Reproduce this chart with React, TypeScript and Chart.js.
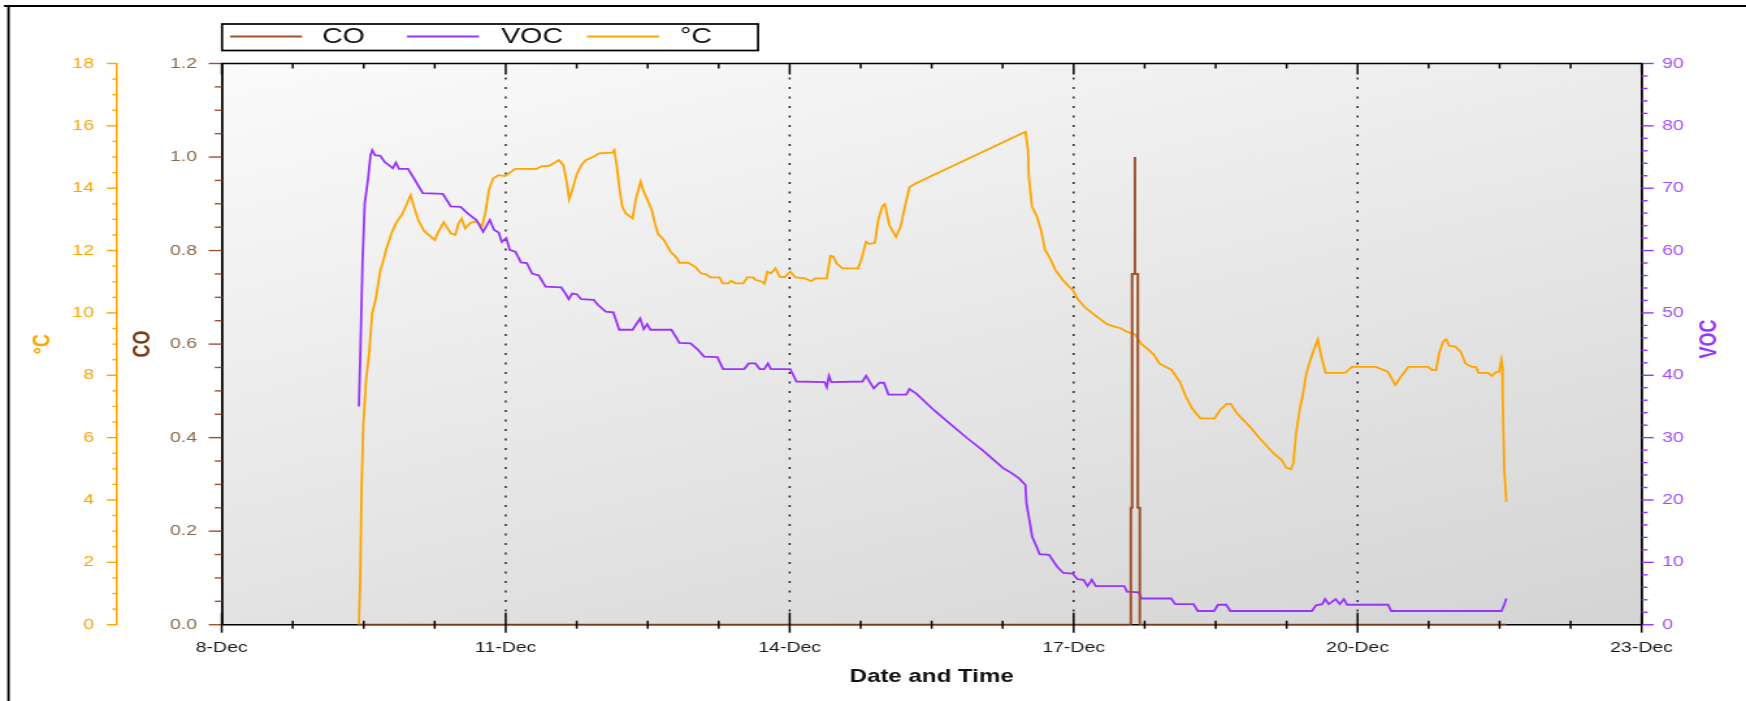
import React, { useEffect, useRef } from "react";
import { Chart, registerables } from "chart.js";

Chart.register(...registerables);

// ---------------- data ----------------
const MONTH = "Dec";
const xTickDays = [8, 11, 14, 17, 20, 23];
const seriesLabels = ["CO", "VOC", "°C"];
const xTitle = "Date and Time";

// CO (ppm) – day of month (fractional) and value
const coDays = [9.449, 17.604, 17.604, 17.617, 17.617, 17.647, 17.647, 17.647, 17.678, 17.678, 17.699, 17.699, 21.571];
const coValues = [0, 0, 0.25, 0.25, 0.75, 0.75, 1.0, 0.75, 0.75, 0.25, 0.25, 0, 0];

// VOC
const vocDays = [
  9.449, 9.463, 9.487, 9.511, 9.544, 9.572, 9.59, 9.619, 9.676, 9.722,
  9.808, 9.84, 9.873, 9.968, 10.03, 10.124, 10.336, 10.42, 10.524, 10.595,
  10.69, 10.761, 10.832, 10.878, 10.926, 10.958, 11.005, 11.043, 11.104, 11.161,
  11.222, 11.279, 11.35, 11.421, 11.586, 11.632, 11.666, 11.703, 11.751, 11.798,
  11.93, 11.973, 12.057, 12.137, 12.199, 12.34, 12.42, 12.459, 12.495, 12.529,
  12.751, 12.836, 12.953, 13.024, 13.095, 13.236, 13.297, 13.519, 13.567, 13.638,
  13.684, 13.731, 13.77, 13.802, 14.005, 14.072, 14.369, 14.392, 14.415, 14.44,
  14.769, 14.807, 14.888, 14.949, 14.996, 15.043, 15.232, 15.265, 15.335, 15.525,
  15.689, 15.877, 16.043, 16.255, 16.325, 16.42, 16.491, 16.501, 16.538, 16.562,
  16.609, 16.64, 16.74, 16.826, 16.89, 16.989, 17.04, 17.104, 17.147, 17.191,
  17.234, 17.534, 17.564, 17.685, 17.719, 18.03, 18.073, 18.267, 18.311, 18.483,
  18.525, 18.612, 18.655, 19.517, 19.561, 19.626, 19.656, 19.694, 19.769, 19.811,
  19.855, 19.889, 20.321, 20.355, 21.519, 21.549, 21.571,
];
const vocValues = [
  35.0, 42.7, 58.0, 67.6, 71.3, 75.3, 76.1, 75.3, 75.2, 74.2,
  73.2, 74.1, 73.1, 73.1, 71.6, 69.2, 69.1, 67.1, 67.0, 66.0,
  64.9, 63.0, 64.9, 63.3, 62.9, 61.4, 62.0, 60.1, 59.8, 58.1,
  58.0, 56.3, 56.0, 54.2, 54.1, 53.1, 52.2, 53.1, 53.0, 52.2,
  52.1, 51.3, 50.2, 50.1, 47.3, 47.3, 49.1, 47.4, 48.2, 47.3,
  47.3, 45.2, 45.1, 44.2, 43.0, 42.9, 41.0, 41.0, 41.9, 41.9,
  41.0, 41.0, 41.9, 41.0, 41.0, 39.0, 38.9, 38.1, 39.9, 38.9,
  39.0, 39.9, 37.9, 38.8, 38.8, 36.9, 36.9, 37.8, 37.1, 34.4,
  32.3, 29.9, 27.9, 25.1, 24.5, 23.5, 22.4, 19.5, 16.3, 14.1,
  12.5, 11.3, 11.2, 9.3, 8.3, 8.2, 7.3, 7.2, 6.2, 7.2,
  6.2, 6.2, 5.3, 5.2, 4.2, 4.2, 3.3, 3.3, 2.2, 2.2,
  3.2, 3.2, 2.2, 2.2, 3.1, 3.3, 4.1, 3.3, 4.1, 3.3,
  4.1, 3.2, 3.2, 2.2, 2.2, 3.2, 4.2,
];

// Temperature (°C)
const tempDays = [
  9.449, 9.463, 9.477, 9.496, 9.525, 9.557, 9.59, 9.628, 9.676, 9.699,
  9.746, 9.793, 9.84, 9.911, 9.996, 10.03, 10.076, 10.137, 10.25, 10.288,
  10.345, 10.42, 10.468, 10.501, 10.534, 10.572, 10.629, 10.69, 10.751, 10.784,
  10.822, 10.868, 10.926, 10.996, 11.043, 11.104, 11.326, 11.383, 11.458, 11.506,
  11.563, 11.609, 11.647, 11.67, 11.703, 11.751, 11.798, 11.845, 11.915, 11.986,
  12.128, 12.147, 12.175, 12.199, 12.231, 12.269, 12.34, 12.373, 12.425, 12.459,
  12.505, 12.543, 12.576, 12.61, 12.671, 12.742, 12.812, 12.836, 12.93, 13.001,
  13.062, 13.118, 13.165, 13.26, 13.293, 13.35, 13.383, 13.425, 13.51, 13.552,
  13.613, 13.638, 13.708, 13.732, 13.764, 13.802, 13.85, 13.896, 13.944, 14.005,
  14.062, 14.156, 14.227, 14.274, 14.392, 14.43, 14.463, 14.495, 14.557, 14.723,
  14.76, 14.807, 14.84, 14.901, 14.935, 14.981, 15.005, 15.052, 15.123, 15.171,
  15.217, 15.265, 15.335, 16.491, 16.518, 16.526, 16.56, 16.612, 16.655, 16.698,
  16.742, 16.806, 16.871, 16.935, 16.992, 17.044, 17.129, 17.237, 17.353, 17.432,
  17.496, 17.561, 17.647, 17.712, 17.842, 17.906, 18.035, 18.122, 18.186, 18.251,
  18.337, 18.488, 18.553, 18.617, 18.66, 18.725, 18.811, 18.863, 18.95, 19.048,
  19.122, 19.199, 19.243, 19.294, 19.321, 19.35, 19.393, 19.424, 19.458, 19.501,
  19.536, 19.58, 19.609, 19.661, 19.868, 19.941, 20.192, 20.256, 20.321, 20.398,
  20.471, 20.537, 20.744, 20.786, 20.829, 20.86, 20.903, 20.937, 20.968, 21.032,
  21.088, 21.14, 21.205, 21.248, 21.278, 21.378, 21.42, 21.463, 21.494, 21.519,
  21.527, 21.532, 21.549, 21.571,
];
const tempValues = [
  0, 1.43, 4.37, 6.4, 7.85, 8.7, 9.99, 10.47, 11.38, 11.59,
  12.12, 12.55, 12.87, 13.19, 13.78, 13.41, 12.98, 12.63, 12.34, 12.6,
  12.91, 12.55, 12.5, 12.87, 13.03, 12.71, 12.89, 12.93, 12.79, 13.19,
  13.94, 14.32, 14.42, 14.39, 14.5, 14.62, 14.62, 14.71, 14.71, 14.8,
  14.9, 14.74, 14.16, 13.64, 13.94, 14.45, 14.74, 14.9, 14.99, 15.12,
  15.14, 15.22, 14.69, 14.05, 13.41, 13.19, 13.03, 13.62, 14.21, 13.89,
  13.57, 13.3, 12.87, 12.53, 12.34, 11.96, 11.75, 11.61, 11.61, 11.48,
  11.27, 11.24, 11.14, 11.14, 10.95, 10.95, 11.03, 10.95, 10.95, 11.14,
  11.14, 11.06, 11.0, 10.93, 11.32, 11.27, 11.43, 11.16, 11.14, 11.32,
  11.14, 11.11, 11.02, 11.11, 11.11, 11.83, 11.8, 11.59, 11.43, 11.43,
  11.75, 12.28, 12.21, 12.25, 12.98, 13.43, 13.49, 12.82, 12.44, 12.76,
  13.41, 14.03, 14.16, 15.81, 15.22, 14.37, 13.41, 13.09, 12.66, 12.02,
  11.8, 11.38, 11.11, 10.89, 10.73, 10.44, 10.15, 9.9, 9.64, 9.56,
  9.51, 9.4, 9.31, 9.02, 8.68, 8.38, 8.17, 7.79, 7.31, 6.94,
  6.62, 6.62, 6.91, 7.08, 7.08, 6.78, 6.51, 6.35, 6.03, 5.71,
  5.47, 5.28, 5.05, 4.98, 5.18, 6.14, 6.99, 7.42, 8.06, 8.49,
  8.81, 9.15, 8.7, 8.08, 8.08, 8.27, 8.27, 8.19, 8.11, 7.69,
  8.01, 8.27, 8.27, 8.17, 8.17, 8.7, 9.08, 9.15, 8.94, 8.92,
  8.76, 8.38, 8.27, 8.27, 8.08, 8.08, 7.98, 8.11, 8.11, 8.49,
  8.27, 7.31, 5.02, 3.94,
];

// ---------------- styling / geometry ----------------
const CO_COLOR = "#A0522D";
const VOC_COLOR = "#9933FF";
const TEMP_COLOR = "#FFA500";
const FONT = "Arial, 'Liberation Sans', Helvetica, sans-serif";

const OUT_W = 1746;
const OUT_H = 701;
const STRETCH = 1.3; // horizontal stretch of the original picture
const CW = Math.round(OUT_W / STRETCH);
const hx = (px: number) => px / STRETCH;

const PLOT_LEFT = hx(221.7);
const PLOT_RIGHT = hx(1641.5);
const PLOT_TOP = 63.5;
const PLOT_BOTTOM = 624.7;
const TEMP_AXIS_X = hx(117.3);

const toPoints = (xs: number[], ys: number[]) => xs.map((x, i) => ({ x, y: ys[i] }));

function line(ctx: CanvasRenderingContext2D, x1: number, y1: number, x2: number, y2: number) {
  ctx.beginPath();
  ctx.moveTo(x1, y1);
  ctx.lineTo(x2, y2);
  ctx.stroke();
}

const decorPlugin = {
  id: "decor",
  beforeDraw(chart: any) {
    const { ctx, chartArea: a, width, height } = chart;
    ctx.save();
    ctx.fillStyle = "#ffffff";
    ctx.fillRect(0, 0, width, height);
    // diagonal gradient whose iso-lines follow the display anti-diagonal
    const Wd = (a.right - a.left) * STRETCH;
    const Hd = a.bottom - a.top;
    const k = (2 * Wd * Hd) / (Wd * Wd + Hd * Hd);
    const g = ctx.createLinearGradient(a.left, a.top, a.left + (Hd * k) / STRETCH, a.top + Wd * k);
    g.addColorStop(0, "#FBFBFB");
    g.addColorStop(1, "#CDCDCD");
    ctx.fillStyle = g;
    ctx.fillRect(a.left, a.top, a.right - a.left, a.bottom - a.top);
    ctx.restore();
  },
  beforeDatasetsDraw(chart: any) {
    const { ctx, chartArea: a, scales } = chart;
    const x = scales.x;
    ctx.save();
    ctx.strokeStyle = "#1a1a1a";
    ctx.lineWidth = 1.4;
    ctx.setLineDash([2, 7.5]);
    for (const d of xTickDays) {
      if (d <= x.min || d >= x.max) continue;
      const px = x.getPixelForValue(d);
      line(ctx, px, a.top + 14, px, a.bottom - 12);
    }
    ctx.restore();
  },
  afterDraw(chart: any) {
    const { ctx, chartArea: a, scales } = chart;
    ctx.save();
    ctx.setLineDash([]);

    // temperature axis minor/major ticks
    const t = scales.yT;
    ctx.strokeStyle = TEMP_COLOR;
    ctx.lineWidth = 1.4;
    for (let i = 0; i <= Math.round((t.max - t.min) / 0.5); i++) {
      const y = t.getPixelForValue(t.min + i * 0.5);
      const len = i % 4 === 0 ? hx(10.5) : hx(5);
      line(ctx, t.right - len, y, t.right, y);
    }
    // CO axis ticks
    const c = scales.yCO;
    ctx.strokeStyle = CO_COLOR;
    for (let i = 0; i <= Math.round((c.max - c.min) / 0.05); i++) {
      const y = c.getPixelForValue(c.min + i * 0.05);
      const len = i % 4 === 0 ? hx(13) : hx(7);
      line(ctx, a.left - len, y, a.left, y);
    }
    // VOC axis ticks
    const v = scales.yV;
    ctx.strokeStyle = VOC_COLOR;
    for (let i = 0; i <= Math.round((v.max - v.min) / 2); i++) {
      const y = v.getPixelForValue(v.min + i * 2);
      const len = i % 5 === 0 ? hx(12) : hx(6);
      line(ctx, a.right, y, a.right + len, y);
    }
    // VOC title (reads bottom-to-top like the left titles)
    ctx.save();
    ctx.translate(hx(1710), (a.top + a.bottom) / 2 - 5);
    ctx.rotate(-Math.PI / 2);
    ctx.fillStyle = VOC_COLOR;
    ctx.font = `bold 18px ${FONT}`;
    ctx.textAlign = "center";
    ctx.textBaseline = "middle";
    ctx.fillText(seriesLabels[1], 0, 0);
    ctx.restore();

    // X axis ticks (bottom and top)
    const x = scales.x;
    ctx.strokeStyle = "#000";
    ctx.lineWidth = 1.5;
    for (let i = 0; i <= Math.round((x.max - x.min) / 0.75); i++) {
      const px = x.getPixelForValue(x.min + i * 0.75);
      const major = i % 4 === 0;
      line(ctx, px, a.bottom - (major ? 12 : 4), px, a.bottom + (major ? 8 : 4));
      line(ctx, px, a.top, px, a.top + (major ? 11 : 5));
    }
    // top frame line
    ctx.lineWidth = 1.5;
    line(ctx, a.left - 0.5, a.top, a.right + 0.5, a.top);

    // outer border (left and top)
    ctx.lineWidth = 2;
    line(ctx, hx(4), 6, chart.width, 6);
    ctx.lineWidth = hx(2.4);
    line(ctx, hx(8.5), 5, hx(8.5), chart.height);

    // legend box
    const bx1 = hx(222), bx2 = hx(758), by1 = 24, by2 = 50.5;
    ctx.fillStyle = "#ffffff";
    ctx.fillRect(bx1, by1, bx2 - bx1, by2 - by1);
    ctx.strokeStyle = "#000";
    ctx.lineWidth = 1.7;
    ctx.strokeRect(bx1, by1, bx2 - bx1, by2 - by1);
    const lineStarts = [230, 407, 587];
    const textStarts = [322, 501, 680];
    const ly = 37;
    chart.data.datasets.forEach((ds: any, i: number) => {
      ctx.strokeStyle = ds.borderColor;
      ctx.lineWidth = 2;
      line(ctx, hx(lineStarts[i]), ly - 0.5, hx(lineStarts[i] + 72), ly - 0.5);
      ctx.fillStyle = "#111";
      ctx.font = `22px ${FONT}`;
      ctx.textAlign = "left";
      ctx.textBaseline = "middle";
      ctx.fillText(ds.label, hx(textStarts[i]), ly);
    });
    ctx.restore();
  },
};

export default function App() {
  const canvasRef = useRef<HTMLCanvasElement | null>(null);

  useEffect(() => {
    const canvas = canvasRef.current;
    if (!canvas) return;
    const tickFont = { family: FONT, size: 15 };
    const titleFont = { family: FONT, size: 18, weight: "bold" as const };
    const chart = new Chart(canvas, {
      type: "line",
      data: {
        datasets: [
          {
            label: seriesLabels[0],
            data: toPoints(coDays, coValues),
            yAxisID: "yCO",
            borderColor: CO_COLOR,
            backgroundColor: CO_COLOR,
            borderWidth: 2,
            pointRadius: 0,
            tension: 0,
            fill: false,
          },
          {
            label: seriesLabels[1],
            data: toPoints(vocDays, vocValues),
            yAxisID: "yV",
            borderColor: VOC_COLOR,
            backgroundColor: VOC_COLOR,
            borderWidth: 1.8,
            pointRadius: 0,
            tension: 0,
            fill: false,
          },
          {
            label: seriesLabels[2],
            data: toPoints(tempDays, tempValues),
            yAxisID: "yT",
            borderColor: TEMP_COLOR,
            backgroundColor: TEMP_COLOR,
            borderWidth: 1.8,
            pointRadius: 0,
            tension: 0,
            fill: false,
          },
        ],
      },
      options: {
        responsive: false,
        maintainAspectRatio: false,
        animation: false,
        devicePixelRatio: 1,
        events: [],
        layout: { padding: { top: PLOT_TOP, left: 0, right: 0, bottom: 0 } },
        plugins: { legend: { display: false }, tooltip: { enabled: false } },
        scales: {
          x: {
            type: "linear",
            position: "bottom",
            min: xTickDays[0],
            max: xTickDays[xTickDays.length - 1],
            afterBuildTicks: (s: any) => {
              s.ticks = xTickDays.map((value) => ({ value }));
            },
            afterFit: (s: any) => {
              s.height = OUT_H - PLOT_BOTTOM;
            },
            grid: { display: false, drawTicks: false },
            border: { display: true, color: "#000", width: 1.5 },
            ticks: {
              autoSkip: false,
              maxRotation: 0,
              minRotation: 0,
              padding: 14.3,
              color: "#1c1c1c",
              font: tickFont,
              callback: (v: any) => `${v}-${MONTH}`,
            },
            title: {
              display: true,
              text: xTitle,
              color: "#111",
              font: { family: FONT, size: 18.5, weight: "bold" },
              padding: { top: 0, bottom: 12.9 },
            },
          },
          yT: {
            type: "linear",
            position: "left",
            weight: 2,
            min: 0,
            max: 18,
            afterFit: (s: any) => {
              s.width = TEMP_AXIS_X;
            },
            grid: { display: false, drawTicks: false },
            border: { display: true, color: TEMP_COLOR, width: 1.5 },
            ticks: { stepSize: 2, padding: hx(23.3), color: TEMP_COLOR, font: tickFont },
            title: {
              display: true,
              text: seriesLabels[2],
              color: TEMP_COLOR,
              font: titleFont,
              padding: { top: hx(43) - 10.8, bottom: 0 },
            },
          },
          yCO: {
            type: "linear",
            position: "left",
            weight: 1,
            min: 0,
            max: 1.2,
            afterFit: (s: any) => {
              s.width = PLOT_LEFT - TEMP_AXIS_X;
            },
            grid: { display: false, drawTicks: false },
            border: { display: true, color: "#000", width: 1.8 },
            ticks: {
              stepSize: 0.2,
              padding: hx(24.7),
              color: "#8B6B4F",
              font: tickFont,
              callback: (v: any) => Number(v).toFixed(1),
            },
            title: {
              display: true,
              text: seriesLabels[0],
              color: "#7A3B10",
              font: titleFont,
              padding: { top: hx(143) - TEMP_AXIS_X - 10.8, bottom: 0 },
            },
          },
          yV: {
            type: "linear",
            position: "right",
            min: 0,
            max: 90,
            afterFit: (s: any) => {
              s.width = CW - PLOT_RIGHT;
            },
            grid: { display: false, drawTicks: false },
            border: { display: true, color: "#000", width: 1.8 },
            ticks: { stepSize: 10, padding: hx(20.5), color: "#A64DFF", font: tickFont },
            title: { display: false },
          },
        },
      } as any,
      plugins: [decorPlugin],
    });
    return () => chart.destroy();
  }, []);

  return (
    <div
      style={{
        position: "fixed",
        left: 0,
        top: 0,
        width: OUT_W,
        height: OUT_H,
        background: "#fff",
        overflow: "hidden",
      }}
    >
      <canvas
        ref={canvasRef}
        width={CW}
        height={OUT_H}
        style={{ width: `${OUT_W}px`, height: `${OUT_H}px`, display: "block" }}
      />
    </div>
  );
}
